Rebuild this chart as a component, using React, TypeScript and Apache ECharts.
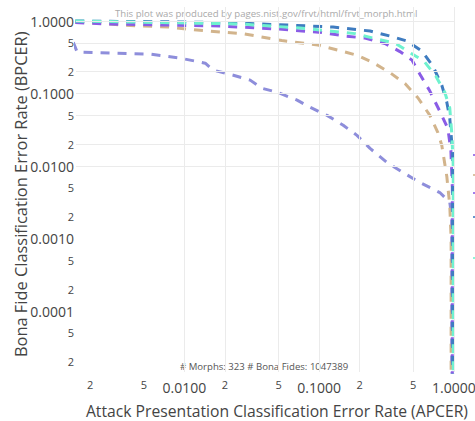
import React, { useEffect, useRef } from "react";
import * as echarts from "echarts";

// Tick values (log axes)
const xTickValues = [0.002, 0.005, 0.01, 0.02, 0.05, 0.1, 0.2, 0.5, 1];
const yTickValues = [2e-5, 5e-5, 1e-4, 2e-4, 5e-4, 0.001, 0.002, 0.005, 0.01, 0.02, 0.05, 0.1, 0.2, 0.5, 1];

// Series (APCER, BPCER)
const slateApcer = [0.0015, 0.0016, 0.0056, 0.0093, 0.0143, 0.0164, 0.0231, 0.0308, 0.0378, 0.0489, 0.0687, 0.0857, 0.1146, 0.151, 0.191, 0.239, 0.319, 0.419, 0.56, 0.787, 0.933, 0.965, 0.965];
const slateBpcer = [0.51, 0.373, 0.35, 0.308, 0.262, 0.21, 0.179, 0.153, 0.118, 0.104, 0.081, 0.0646, 0.05, 0.0365, 0.0265, 0.0175, 0.0112, 0.00816, 0.00593, 0.00431, 0.00316, 0.002, 0.000001];

const tanApcer = [0.00155, 0.004, 0.0076, 0.0105, 0.0185, 0.0269, 0.053, 0.098, 0.138, 0.195, 0.251, 0.336, 0.434, 0.541, 0.664, 0.76, 0.814, 0.887, 0.933, 0.955, 0.955];
const tanBpcer = [0.97, 0.867, 0.826, 0.775, 0.705, 0.672, 0.537, 0.466, 0.397, 0.333, 0.267, 0.194, 0.137, 0.0875, 0.05, 0.0292, 0.0193, 0.0072, 0.00285, 0.001, 0.000001];

const purpleApcer = [0.00155, 0.0028, 0.0185, 0.0497, 0.105, 0.156, 0.219, 0.308, 0.398, 0.489, 0.56, 0.664, 0.787, 0.903, 0.951, 0.975, 0.975];
const purpleBpcer = [0.95, 0.91, 0.853, 0.775, 0.693, 0.62, 0.582, 0.489, 0.379, 0.289, 0.185, 0.108, 0.0569, 0.033, 0.0164, 0.005, 0.000001];

const blueApcer = [0.00155, 0.01, 0.0247, 0.058, 0.127, 0.239, 0.336, 0.449, 0.58, 0.699, 0.814, 0.887, 0.933, 0.98, 0.98];
const blueBpcer = [1.0, 0.97, 0.938, 0.88, 0.826, 0.727, 0.621, 0.529, 0.385, 0.239, 0.13, 0.076, 0.0455, 0.015, 0.000001];

const aquaApcer = [0.00155, 0.026, 0.072, 0.185, 0.269, 0.366, 0.48, 0.6, 0.736, 0.857, 0.933, 0.966, 0.99, 0.99];
const aquaBpcer = [1.0, 0.91, 0.8, 0.67, 0.563, 0.496, 0.36, 0.28, 0.173, 0.104, 0.063, 0.028, 0.01, 0.000001];

const seriesDefs = [
  { name: "slate", color: "#8e8edb", x: slateApcer, y: slateBpcer },
  { name: "tan", color: "#d2b48c", x: tanApcer, y: tanBpcer },
  { name: "purple", color: "#8a5ce6", x: purpleApcer, y: purpleBpcer },
  { name: "blue", color: "#3f7cc0", x: blueApcer, y: blueBpcer },
  { name: "aqua", color: "#6ff2cf", x: aquaApcer, y: aquaBpcer },
];

// Cropped legend fragments visible at the right edge
const legendFragmentColors = ["#8a5ce6", "#d2b48c", "#8a5ce6", "#3f7cc0", "#6ff2cf"];
const legendFragmentY = [155, 175, 193, 217, 258];

const FONT = "Open Sans";

function fmt(v: number): string {
  const e = Math.log10(v);
  if (Math.abs(e - Math.round(e)) < 1e-6) return "{big|" + v.toFixed(4) + "}";
  const m = Math.round(v / Math.pow(10, Math.floor(e + 1e-9)));
  return "{small|" + m + "}";
}

export default function App() {
  const ref = useRef<HTMLDivElement>(null);
  useEffect(() => {
    if (!ref.current) return;
    const chart = echarts.init(ref.current, null, { renderer: "svg" });
    const gridSeries = {
      type: "line",
      name: "grid",
      z: 1,
      data: [[0.01, 0.01]],
      showSymbol: false,
      symbol: "none",
      lineStyle: { opacity: 0 },
      silent: true,
      markLine: {
        silent: true,
        symbol: ["none", "none"],
        label: { show: false },
        lineStyle: { color: "#ebebeb", width: 1, type: "solid" },
        emphasis: { disabled: true },
        data: [
          ...xTickValues.map((v) => ({ xAxis: v })),
          ...yTickValues.map((v) => ({ yAxis: v })),
        ],
      },
    };
    chart.setOption({
      animation: false,
      backgroundColor: "#ffffff",
      textStyle: { fontFamily: FONT },
      grid: { left: 76, right: 21, top: 7, bottom: 49, containLabel: false, outerBoundsMode: "none" },
      graphic: [
        {
          type: "text",
          style: {
            text: "This plot was produced by pages.nist.gov/frvt/html/frvt_morph.html",
            x: 115,
            y: 13,
            align: "left",
            verticalAlign: "middle",
            fontFamily: FONT,
            fontSize: 9.6,
            fill: "#aaaaaa",
          },
        },
        {
          type: "text",
          style: {
            text: "# Morphs: 323 # Bona Fides: 1047389",
            x: 180,
            y: 366,
            align: "left",
            verticalAlign: "middle",
            fontFamily: FONT,
            fontSize: 9.6,
            fill: "#555555",
          },
        },
        {
          type: "text",
          style: {
            text: "Attack Presentation Classification Error Rate (APCER)",
            x: 468,
            y: 411,
            align: "right",
            verticalAlign: "middle",
            fontFamily: FONT,
            fontSize: 15.7,
            fill: "#444444",
          },
        },
        {
          type: "text",
          x: 20,
          y: 357,
          rotation: Math.PI / 2,
          style: {
            text: "Bona Fide Classification Error Rate (BPCER)",
            x: 0,
            y: 0,
            align: "left",
            verticalAlign: "middle",
            fontFamily: FONT,
            fontSize: 16.4,
            fill: "#444444",
          },
        },
        ...legendFragmentY.map((y, i) => ({
          type: "line",
          shape: { x1: 473, y1: y, x2: 475, y2: y },
          style: { stroke: legendFragmentColors[i], lineWidth: 2, opacity: 0.8 },
        })),
      ],
      xAxis: {
        type: "log",
        logBase: 10,
        min: 0.00157,
        max: 1.003,
        axisLine: { show: false },
        axisTick: { show: false, customValues: xTickValues },
        axisLabel: {
          customValues: xTickValues,
          margin: 8,
          formatter: fmt,
          rich: {
            big: { fontFamily: FONT, fontSize: 14, color: "#444" },
            small: { fontFamily: FONT, fontSize: 11, color: "#444", lineHeight: 8 },
          },
        },
        splitLine: { show: false },
      },
      yAxis: {
        type: "log",
        logBase: 10,
        min: 1.445e-5,
        max: 1.56,
        axisLine: { show: false },
        axisTick: { show: false, customValues: yTickValues },
        axisLabel: {
          customValues: yTickValues,
          margin: 2,
          formatter: fmt,
          rich: {
            big: { fontFamily: FONT, fontSize: 14, color: "#444" },
            small: { fontFamily: FONT, fontSize: 11, color: "#444" },
          },
        },
        splitLine: { show: false },
      },
      series: [
        gridSeries,
        ...seriesDefs.map((s) => ({
          type: "line",
          name: s.name,
          z: 3,
          data: s.x.map((xv, i) => [xv, s.y[i]]),
          showSymbol: false,
          symbol: "none",
          clip: true,
          lineStyle: { color: s.color, width: 3, type: [9, 8] },
        })),
      ],
    });
    return () => chart.dispose();
  }, []);
  return <div ref={ref} style={{ width: 475, height: 421, position: "absolute", left: 0, top: 0 }} />;
}
